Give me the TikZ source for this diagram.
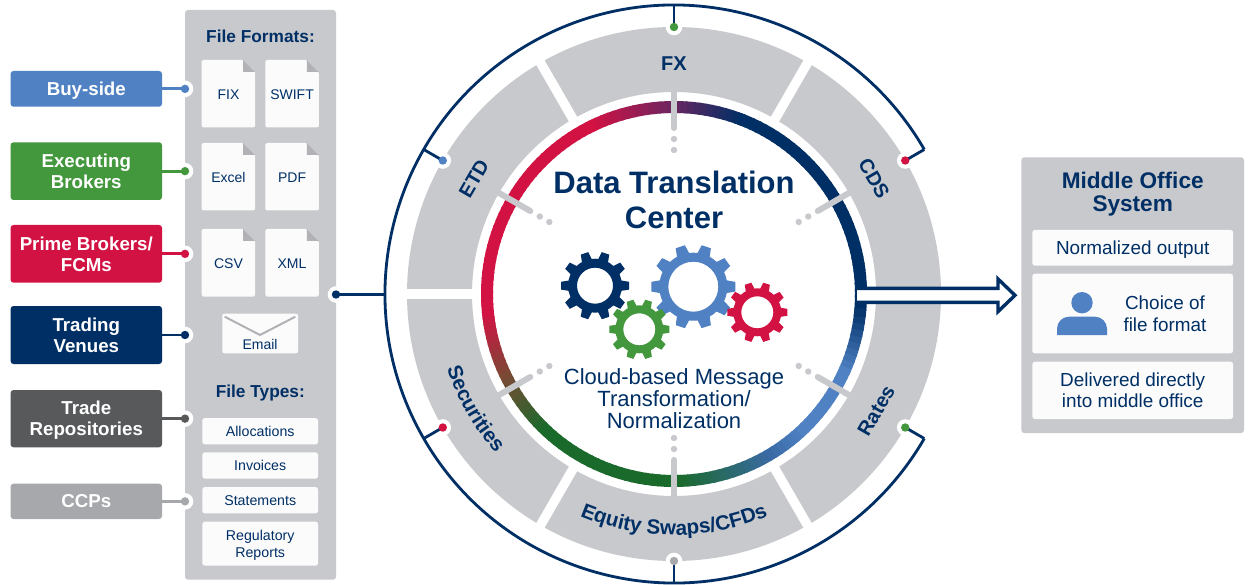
\documentclass[tikz,border=0pt]{standalone}
\usepackage{fontspec}
\setmainfont{Liberation Sans}
\usetikzlibrary{decorations.text}
\definecolor{cNavy}{HTML}{002F65}
\definecolor{cBlue}{HTML}{4F81C3}
\definecolor{cGreen}{HTML}{43973C}
\definecolor{cRed}{HTML}{D21243}
\definecolor{cDark}{HTML}{58595B}
\definecolor{cLight}{HTML}{A7A8AB}
\definecolor{cPanel}{HTML}{C8C9CD}
\definecolor{cPaper}{HTML}{FBFBFC}
\definecolor{cFold}{HTML}{B2B2B6}
\definecolor{cPurple}{HTML}{6E2560}
\definecolor{cBrown}{HTML}{7A4A35}
\definecolor{cDeep}{HTML}{1A6A2B}
\definecolor{cMidB}{HTML}{3A6AA5}
\newcommand{\fsz}[2]{\fontsize{#1}{#2}\selectfont}
\tikzset{
  panelbox/.style={fill=cPanel,rounded corners=3pt},
  srcbox/.style={rounded corners=3pt,inner sep=0pt,minimum width=151.5pt,text=white,align=center,text depth=-0.6pt,font=\fsz{18.7}{21}\bfseries},
  paperbox/.style={fill=cPaper,rounded corners=2.5pt,inner sep=0pt,text=cNavy,align=center},
  typebox/.style={paperbox,minimum width=115.7pt,text depth=0pt,font=\fsz{14.2}{17}},
  outbox/.style={paperbox,minimum width=200.7pt,text depth=0pt,font=\fsz{18.9}{21}},
  heading/.style={text=cNavy,align=center,inner sep=0pt},
  ringlabel/.style={text=cNavy,inner sep=0pt,font=\fsz{20}{22}\bfseries},
  dotmark/.style={circle,inner sep=0pt,minimum size=8.4pt},
  tickbar/.style={cPanel,line width=6pt,line cap=round},
  tickdot/.style={fill=cPanel},
  navyline/.style={cNavy,line width=2.8pt},
}
% name, position, colour, far end, line colour
\newcommand{\hubdot}[5]{%
  \coordinate (p#1) at #2;
  \fill[white] (p#1) circle[radius=8.3pt];
  \draw[#5,line width=2.8pt] #4 -- (p#1);
  \node[dotmark,fill=#3] (d#1) at (p#1) {};
}
% name, x, y, text
\newcommand{\fileicon}[4]{%
  \begin{scope}[shift={(#2,#3)}]
    \fill[cPaper,rounded corners=1.5pt] (0,0) -- (41.5,0) -- (53.5,12) -- (53.5,67.5) -- (0,67.5) -- cycle;
    \fill[cFold] (41.5,0) -- (53.5,12) -- (41.5,12) -- cycle;
    \node[text=cNavy,inner sep=0pt,font=\fsz{14}{16}] (#1) at (26.75,34.6) {#4};
  \end{scope}
}
% x, y, outer, root, hole, colour
\newcommand{\gearwheel}[6]{%
  \begin{scope}[shift={(#1,#2)},y=1pt]
    \fill[#6,even odd rule] (0,0) circle[radius=#4 pt] (0,0) circle[radius=#5 pt];
    \foreach \t in {0,36,...,324}{
      \fill[#6,rotate=\t] ({#4-1.5},{-0.155*#3}) -- (#3,{-0.115*#3}) -- (#3,{0.115*#3}) -- ({#4-1.5},{0.155*#3}) -- cycle;
    }
  \end{scope}
}
\begin{document}
\begin{tikzpicture}[x=1pt,y=-1pt]
\useasboundingbox (0,0) rectangle (1249,585);
\fill[white] (0,0) rectangle (1249,585);

% ---------- left panel
\fill[panelbox] (185,10) rectangle (336,579.7);
\node[heading,font=\fsz{17.3}{19}\bfseries] (fmt) at (260.5,36) {File Formats:};
\fileicon{fix}{201.7}{60}{FIX}
\fileicon{swift}{265.3}{60}{SWIFT}
\fileicon{excel}{201.7}{143}{Excel}
\fileicon{pdf}{265.3}{143}{PDF}
\fileicon{csv}{201.7}{229}{CSV}
\fileicon{xml}{265.3}{229}{XML}
\fill[cPaper,rounded corners=2pt] (222.3,313.7) rectangle (298,353.3);
\draw[cFold,line width=2pt] (224.7,316.7) -- (260,335) -- (295.3,316.7);
\node[text=cNavy,inner sep=0pt,font=\fsz{14}{16}] (email) at (260,344.3) {Email};
\node[heading,font=\fsz{17.3}{19}\bfseries,text depth=0pt] (types) at (260.3,391) {File Types:};
\node[typebox,minimum height=26.3pt] (alloc) at (260.2,431.2) {Allocations};
\node[typebox,minimum height=26.3pt] (inv) at (260.2,465.5) {Invoices};
\node[typebox,minimum height=26.3pt] (stat) at (260.2,500.2) {Statements};
\node[typebox,minimum height=44pt] (reg) at (260.2,543.7) {Regulatory\\Reports};

% ---------- sources
\node[srcbox,fill=cBlue,minimum height=35.7pt] (buy) at (86.3,88.85) {Buy-side};
\node[srcbox,fill=cGreen,minimum height=57.7pt] (exec) at (86.3,171.15) {Executing\\Brokers};
\node[srcbox,fill=cRed,minimum height=57.7pt] (prime) at (86.3,253.85) {Prime Brokers/\\FCMs};
\node[srcbox,fill=cNavy,minimum height=58pt] (venue) at (86.3,335) {Trading\\Venues};
\node[srcbox,fill=cDark,minimum height=57.3pt] (repo) at (86.3,418.65) {Trade\\Repositories};
\node[srcbox,fill=cLight,minimum height=35.3pt] (ccp) at (86.3,501.35) {CCPs};
\hubdot{buy}{(185,88.85)}{cBlue}{(buy.east)}{cBlue}
\hubdot{exec}{(185,171.15)}{cGreen}{(exec.east)}{cGreen}
\hubdot{prime}{(185,253.85)}{cRed}{(prime.east)}{cRed}
\hubdot{venue}{(185,335)}{cNavy}{(venue.east)}{cNavy}
\hubdot{repo}{(185,418.65)}{cDark}{(repo.east)}{cDark}
\hubdot{ccp}{(185,501.35)}{cLight}{(ccp.east)}{cLight}

% ---------- central wheel
\begin{scope}[shift={(674,294)},x=1pt,y=1pt]
  \fill[cPanel,even odd rule] (0,0) circle[radius=267pt] (0,0) circle[radius=202pt];
  \foreach \a in {60,120,180,240,300}{
    \draw[white,line width=9.5pt] (\a:198pt) -- (\a:271pt);
  }
  % gradient ring
  \foreach \sa/\sb/\ca/\cb in {-5/68/cNavy/cNavy,68/90/cNavy/cPurple,90/115/cPurple/cRed,115/185/cRed/cRed,185/205/cRed/cBrown,205/225/cBrown/cDeep,225/270/cDeep/cDeep,270/300/cDeep/cMidB,300/312/cMidB/cBlue,312/335/cBlue/cBlue,335/355/cBlue/cNavy}{
    \pgfmathsetmacro{\last}{\sb-1}
    \pgfmathsetmacro{\next}{\sa+2}
    \foreach \g in {\sa,\next,...,\last}{
      \pgfmathtruncatemacro{\mixp}{100*(\g-\sa)/(\sb-\sa)}
      \pgfmathsetmacro{\gend}{\g+2.6}
      \colorlet{ringtmp}{\cb!\mixp!\ca}
      \draw[ringtmp,line width=12pt] (\g:187pt) arc[start angle=\g,end angle=\gend,radius=187pt];
    }
  }
  % ticks
  \foreach \a in {30,90,150,210,270,330}{
    \draw[tickbar] (\a:203pt) -- (\a:166pt);
    \fill[tickdot] (\a:155pt) circle[radius=3.2pt];
    \fill[tickdot] (\a:144pt) circle[radius=3.2pt];
  }
  % labels
  \node[ringlabel] (fx) at (90:230pt) {FX};
  \node[ringlabel,rotate=60] (etd) at (150:231pt) {ETD};
  \node[ringlabel,rotate=-60] (cds) at (30:231pt) {CDS};
  \node[ringlabel,rotate=60] (rates) at (-30:233.5pt) {Rates};
  \path[decorate,decoration={text along path,text color=cNavy,text align=center,
     text={|\fsz{20.6}{22}\bfseries|Securities}}]
     (170:239pt) arc[start angle=170,end angle=250,radius=239pt];
  \path[decorate,decoration={text along path,text color=cNavy,text align=center,
     text={|\fsz{20.6}{22}\bfseries|Equity Swaps/CFDs}}]
     (225:241pt) arc[start angle=225,end angle=315,radius=241pt];
  % outer bracket
  \draw[navyline] (30:289pt) arc[start angle=30,end angle=330,radius=289pt];
  \coordinate (oFX) at (90:289pt);
  \coordinate (oCDS) at (30:289pt);
  \coordinate (oETD) at (150:289pt);
  \coordinate (oSEC) at (210:289pt);
  \coordinate (oEQ) at (270:289pt);
  \coordinate (oRT) at (330:289pt);
  \hubdot{fx}{(90:267pt)}{cGreen}{(oFX)}{cNavy}
  \hubdot{cds}{(30:267pt)}{cRed}{(oCDS)}{cNavy}
  \hubdot{etd}{(150:267pt)}{cBlue}{(oETD)}{cNavy}
  \hubdot{sec}{(210:267pt)}{cRed}{(oSEC)}{cNavy}
  \hubdot{eq}{(270:267pt)}{cLight}{(oEQ)}{cNavy}
  \hubdot{rt}{(330:267pt)}{cGreen}{(oRT)}{cNavy}
\end{scope}
\coordinate (oLeft) at (385.5,294.5);
\hubdot{panel}{(336,294.5)}{cNavy}{(oLeft)}{cNavy}

% centre texts
\node[heading,font=\fsz{31}{35}\bfseries] (dtc) at (674,200) {Data Translation\\Center};
\node[heading,font=\fsz{22}{22}] (cloud) at (674,398.5) {Cloud-based Message\\Transformation/\\Normalization};

% gears
\gearwheel{595}{285.7}{34}{27}{18}{cNavy}
\gearwheel{693.3}{286.7}{42}{34}{25}{cBlue}
\gearwheel{639.3}{329.3}{30}{24}{16}{cGreen}
\gearwheel{757.3}{312.3}{30}{24}{16}{cRed}

% ---------- output arrow
\fill[white] (857,288.3) -- (998,288.3) -- (998,279) -- (1015,295.3) -- (998,311.6) -- (998,302.3) -- (857,302.3) -- cycle;
\draw[cNavy,line width=3.4pt,miter limit=10] (857,288.3) -- (998,288.3) -- (998,279) -- (1015,295.3) -- (998,311.6) -- (998,302.3) -- (857,302.3);

% ---------- right panel
\fill[panelbox] (1021.3,157.3) rectangle (1244,433);
\node[heading,font=\fsz{22.6}{23.3}\bfseries] (mid) at (1132.7,194.5) {Middle Office\\System};
\node[outbox,minimum height=35.7pt] (norm) at (1132.7,247.85) {Normalized output};
\fill[cPaper,rounded corners=2.5pt] (1032.3,273.7) rectangle (1233,353.3);
\fill[cBlue] (1082,302.7) circle[radius=10.7pt];
\fill[cBlue] (1057,335) [rounded corners=12pt] -- (1057,316.7) -- (1107,316.7) [sharp corners] -- (1107,335) -- cycle;
\node[heading,font=\fsz{18.9}{22.3},text=cNavy] (choice) at (1165,313.8) {Choice of\\file format};
\node[outbox,minimum height=57.3pt] (deliv) at (1132.7,390.35) {Delivered directly\\into middle office};
\end{tikzpicture}
\end{document}
